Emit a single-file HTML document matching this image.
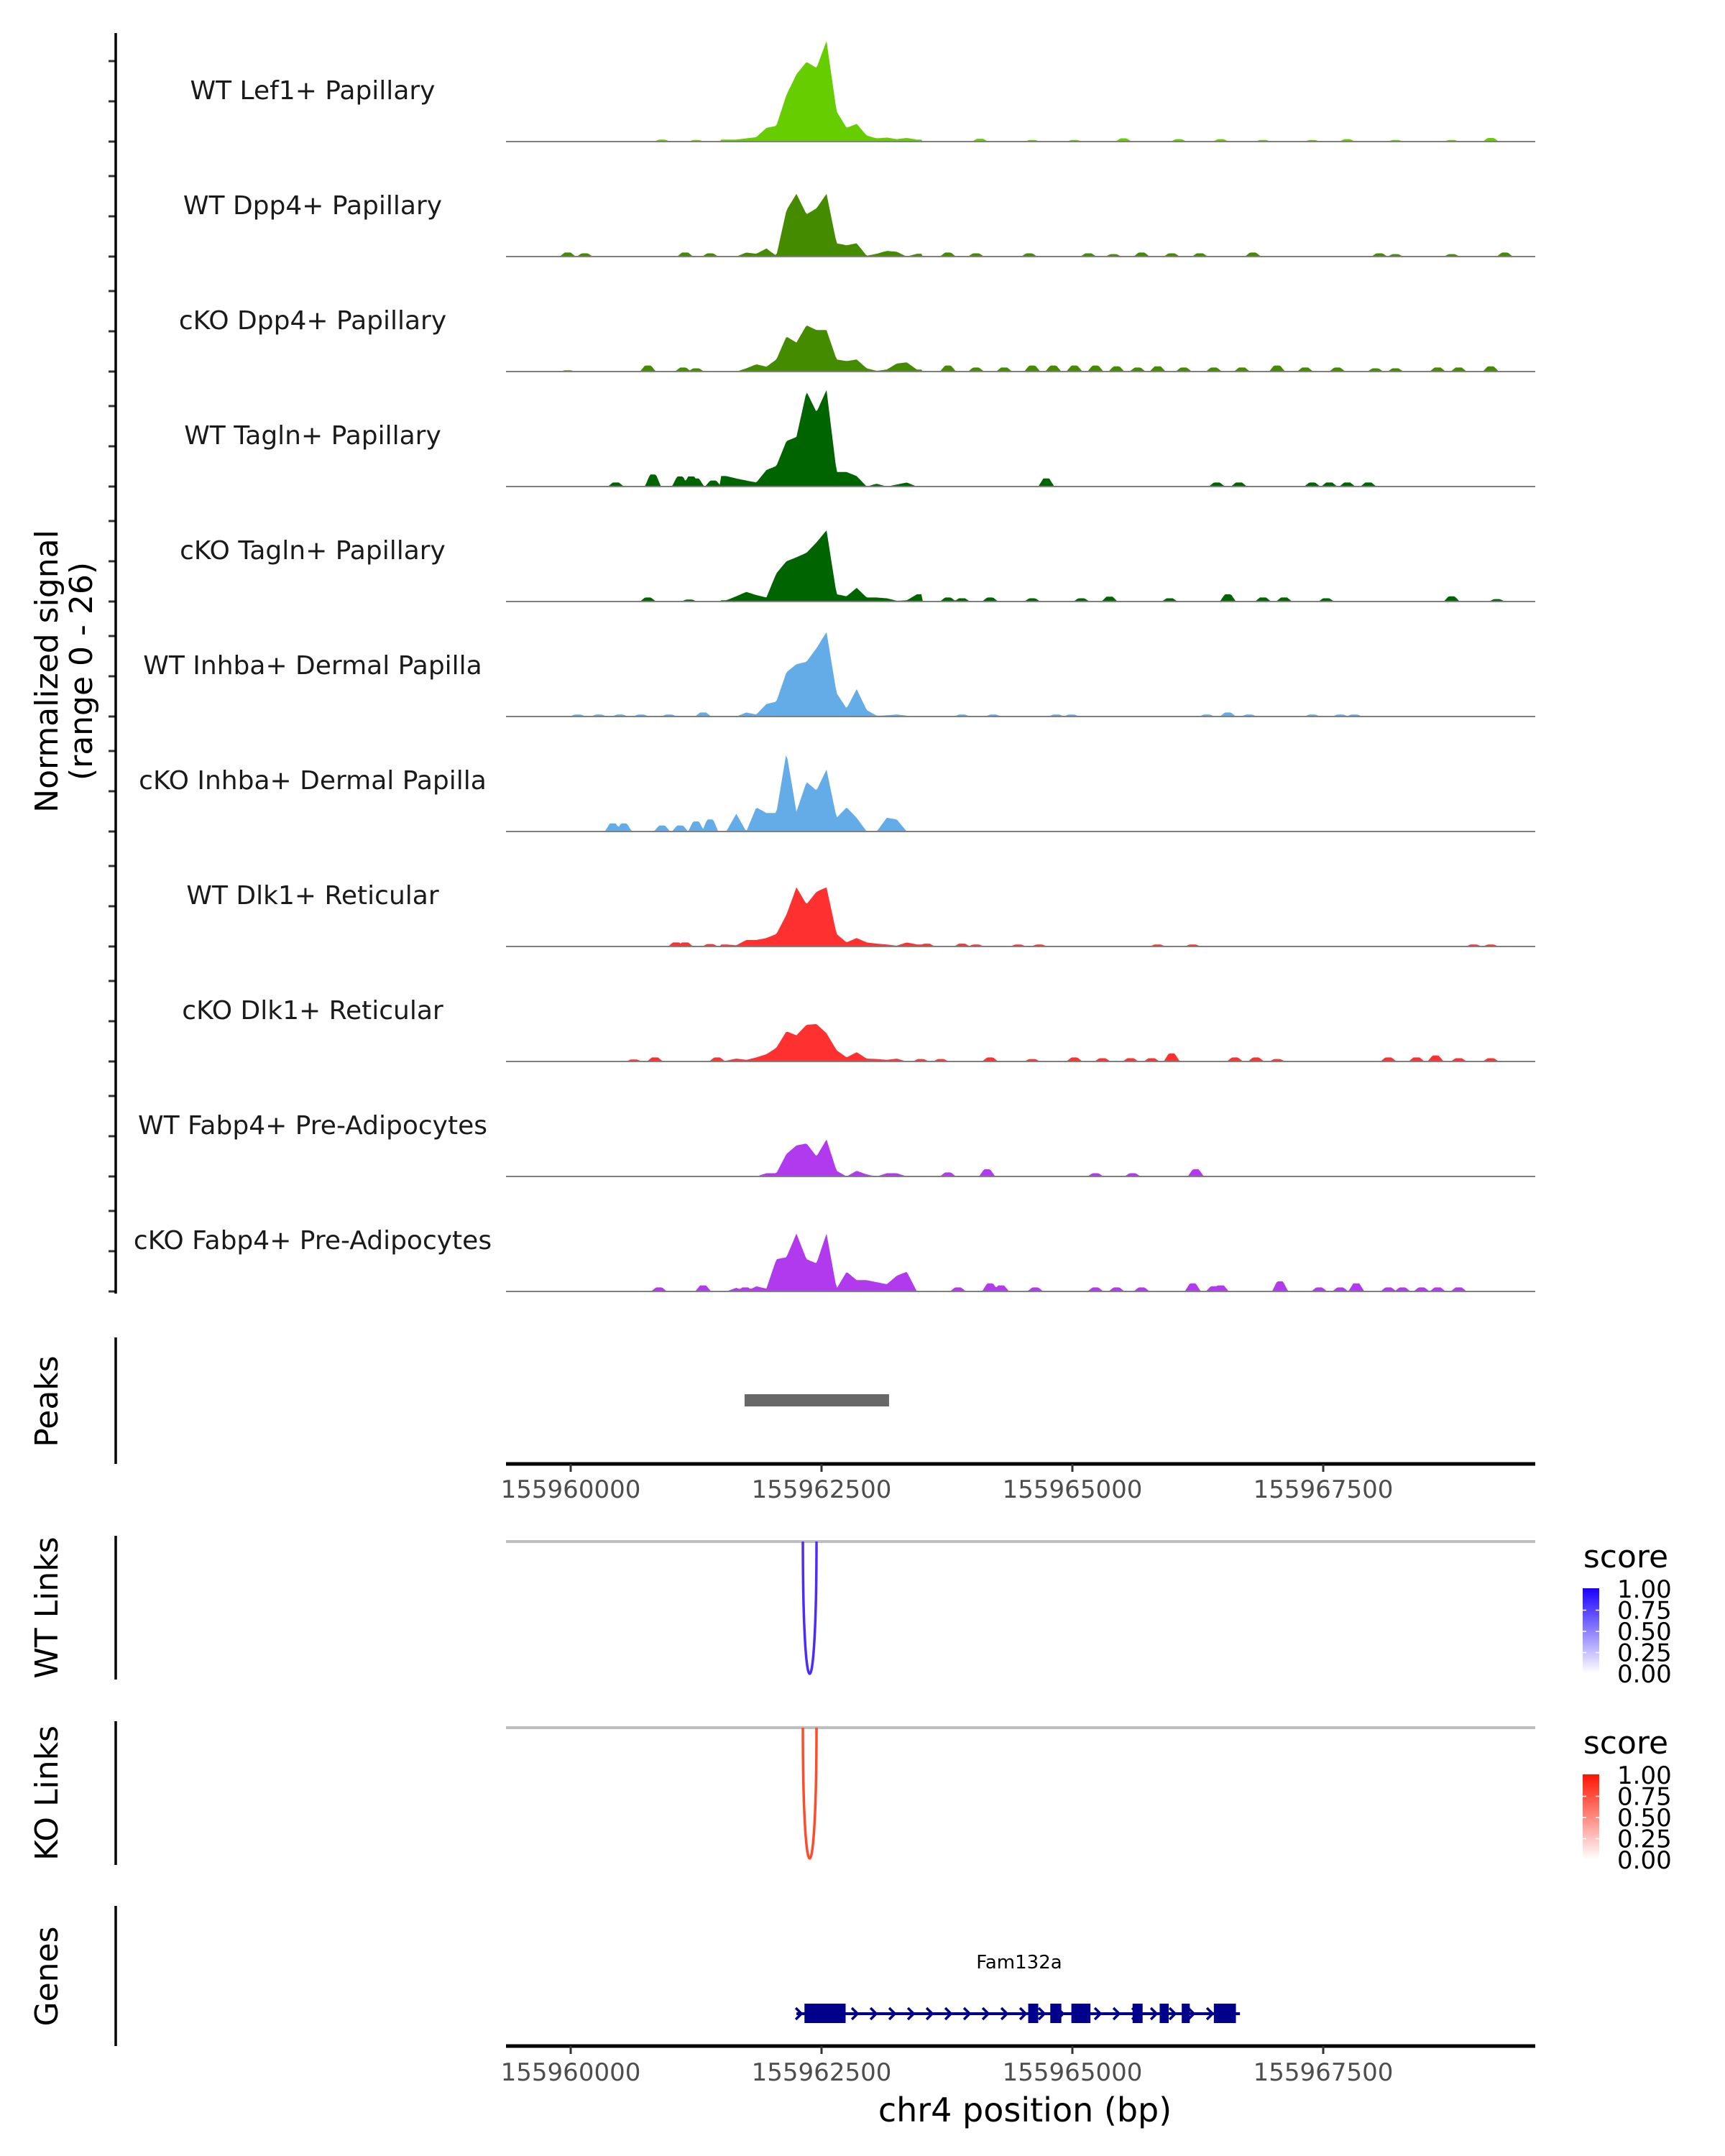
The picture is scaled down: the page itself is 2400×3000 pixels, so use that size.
<!DOCTYPE html>
<html><head><meta charset="utf-8">
<style>
body{margin:0;background:#fff;}
svg{display:block;font-family:"DejaVu Sans","Liberation Sans",sans-serif;}
</style></head>
<body>
<svg id="chart" width="2400" height="3000" viewBox="0 0 2400 3000" xmlns="http://www.w3.org/2000/svg">
<rect width="2400" height="3000" fill="#fff"/>
<g id="tracks"></g>
<g id="axes"></g>
<text transform="translate(80,934) rotate(-90)" text-anchor="middle" font-size="44" fill="#000">Normalized signal</text>
<text transform="translate(128,934) rotate(-90)" text-anchor="middle" font-size="44" fill="#000">(range 0 - 26)</text>
<text transform="translate(80,1950) rotate(-90)" text-anchor="middle" font-size="44">Peaks</text>
<text transform="translate(80,2237) rotate(-90)" text-anchor="middle" font-size="44">WT Links</text>
<text transform="translate(80,2495) rotate(-90)" text-anchor="middle" font-size="44">KO Links</text>
<text transform="translate(80,2750) rotate(-90)" text-anchor="middle" font-size="44">Genes</text>
<text x="1426" y="2952" text-anchor="middle" font-size="46">chr4 position (bp)</text>
<defs>
<linearGradient id="gBlue" x1="0" y1="1" x2="0" y2="0"><stop offset="0" stop-color="#fff"/><stop offset="1" stop-color="#1a00ff"/></linearGradient>
<linearGradient id="gRed" x1="0" y1="1" x2="0" y2="0"><stop offset="0" stop-color="#fff"/><stop offset="1" stop-color="#ff1400"/></linearGradient>
</defs>
</svg>
<script>
const labels=["WT Lef1+ Papillary","WT Dpp4+ Papillary","cKO Dpp4+ Papillary","WT Tagln+ Papillary","cKO Tagln+ Papillary","WT Inhba+ Dermal Papilla","cKO Inhba+ Dermal Papilla","WT Dlk1+ Reticular","cKO Dlk1+ Reticular","WT Fabp4+ Pre-Adipocytes","cKO Fabp4+ Pre-Adipocytes"];
const colors=["#66cd00","#458b00","#458b00","#006400","#006400","#63ace8","#63ace8","#ff3030","#ff3030","#b23aee","#b23aee"];
// main peak region 155961500-155963500, 100bp bins (signal values)
const main0=[0.5,0.5,0.8,1.1,3.4,3.9,11.6,16.7,19.8,18.3,25,7.5,3.4,4.4,1.5,0.8,1,0.6,0.9,0.5];
const main1=[0,0,1,0.7,2,0.2,11.5,15.6,10.5,12,15.6,3.3,2.8,3.3,0.2,0.7,1.4,1.2,0,0.7];
const main2=[0,0,0.8,1.8,1.2,3,8.7,7.2,11.5,10.3,10.3,3,2.6,3,0.8,0.2,0.5,2,2.3,0.5];
const main3=[2.6,2,1.5,1,4.1,5.1,11.3,12.3,23.6,18.5,24,3.6,3.6,2.6,0,0.7,0,0.5,1,0];
const main4=[0.3,1.3,2.4,1.6,1,7,10,11,12.1,14.7,17.7,1.8,1.3,3.4,1,1,0.8,0.2,0.3,1.8];
const main5=[0,0,1,0.5,3.1,3.7,11,13,13.6,17,21,5.8,2,6.8,1.6,0.2,0.3,0.5,0.2,0];
const main6=[0,4.4,0,6,4.6,4.6,19.6,4.9,12.3,10.2,15.4,3.4,6,3.4,0,0,3.4,3,0,0];
const main7=[0.5,0.3,1.6,1.6,2.1,3.1,7.9,14.7,10.5,13.6,14.7,3.1,1,2.1,1,0.7,0.5,0.2,1,0.5];
const main8=[0.2,0.7,0.4,1,1.8,3.4,7.5,6.5,9.1,9.3,7,2.8,1,2.3,0.7,0.6,0.4,0.7,0,0.2];
const main9=[0,0,0,0,0.8,0.8,5.6,7.7,8.2,5,9.2,1.4,0,1.4,0.5,0,0.8,0.8,0,0];
const main10=[0,0.9,0,1.3,0.7,8,8.5,14.4,8,7,14.4,0.7,4.9,2.8,2.8,2.3,1.8,3.9,4.9,0];
const mains=[main0,main1,main2,main3,main4,main5,main6,main7,main8,main9,main10];
// background bumps: positions in kb from 155960000, heights
const bumpPos0=[0.91,1.25,6.5,4.08,4.6,5.02,5.51,6.06,6.48,6.9,7.39,7.74,8.22,8.78,9.17];
const bumpH0=[0.5,0.4,0.3,0.7,0.4,0.4,0.8,0.6,0.6,0.4,0.4,0.6,0.4,0.4,0.9];
const bumpPos1=[-0.03,0.14,1.14,1.39,3.76,4.04,4.57,5.16,5.41,5.69,5.99,6.27,6.8,8.06,8.22,8.78,9.31];
const bumpH1=[1,0.8,1,0.8,1,0.8,0.8,0.8,0.6,1,0.8,0.8,1,0.8,0.6,0.6,1];
const bumpPos2=[-0.03,0.77,1.12,1.25,3.76,4.04,4.32,4.6,4.81,5.02,5.23,5.44,5.65,5.85,6.11,6.41,6.69,7.04,7.32,7.64,8.02,8.22,8.64,8.85,9.17];
const bumpH2=[0.3,1.5,1,0.8,1.5,1,1,1.5,1.5,1.5,1.5,1.3,1,1.3,1,1,1,1.5,1,1,0.8,0.8,1,1,1.3];
const bumpPos3=[0.45,0.82,1.09,1.2,1.25,1.42,4.74,6.44,6.66,7.39,7.56,7.74,7.95];
const bumpH3=[1,3,2.5,2.5,2,1.5,2,1,1,1,1,1,1];
const bumpPos4=[0.77,1.18,3.76,3.9,4.18,4.6,5.09,5.37,5.97,6.55,6.9,7.11,7.53,8.78,9.23];
const bumpH4=[1,0.5,1,0.8,1,0.8,0.8,1.2,0.8,1.8,1,1,0.8,1.3,0.6];
const bumpPos5=[0.07,0.28,0.49,0.7,0.98,1.32,3.9,4.21,4.84,4.99,6.34,6.55,6.76,7.39,7.67,7.81];
const bumpH5=[0.5,0.5,0.5,0.5,0.5,1,0.5,0.5,0.5,0.5,0.5,1,0.5,0.5,0.5,0.5];
const bumpPos6=[0.42,0.53,0.91,1.09,1.25,1.39];
const bumpH6=[2,2,1.5,1.5,2.5,3];
const bumpPos7=[1.05,1.14,1.39,3.55,3.9,4.04,4.46,4.67,5.85,6.2,9.0,9.17];
const bumpH7=[1,1,0.6,0.7,0.7,0.5,0.5,0.5,0.5,0.5,0.5,0.5];
const bumpPos8=[0.63,0.84,1.46,3.49,3.69,4.18,4.6,5.02,5.3,5.58,5.79,5.99,6.62,6.83,7.04,8.15,8.43,8.62,8.85,9.17];
const bumpH8=[0.5,1,1,0.6,0.6,1,0.6,1,0.8,0.8,0.8,2,1,1,0.6,1,1,1.5,0.8,0.8];
const bumpPos9=[3.76,4.15,5.23,5.6,6.23];
const bumpH9=[1,1.8,0.8,0.8,1.8];
const bumpPos10=[0.88,1.32,1.74,3.86,4.18,4.29,4.63,5.23,5.44,5.69,6.2,6.41,6.48,7.07,7.46,7.67,7.83,8.15,8.29,8.48,8.64,8.85];
const bumpH10=[1,1.5,1,1,2,1.5,1,1,1,1,2,1.3,1.5,2.5,1,1,2,1,1,1,1,1];
const bumpPos=[bumpPos0,bumpPos1,bumpPos2,bumpPos3,bumpPos4,bumpPos5,bumpPos6,bumpPos7,bumpPos8,bumpPos9,bumpPos10];
const bumpH=[bumpH0,bumpH1,bumpH2,bumpH3,bumpH4,bumpH5,bumpH6,bumpH7,bumpH8,bumpH9,bumpH10];
const xTicks=[155960000,155962500,155965000,155967500];
const peakStart=[155961733], peakEnd=[155963173];
const linkStart=[155962314], linkEnd=[155962450], linkScore=[1.0];
const geneStart=155962250, geneEnd=155966670;
const exonStart=[2.33,4.56,4.78,4.99,5.60,5.87,6.09,6.41];
const exonEnd=[2.74,4.66,4.89,5.18,5.70,5.96,6.17,6.63];
const legendTicks=["1.00","0.75","0.50","0.25","0.00"];

const NS="http://www.w3.org/2000/svg";
const svg=document.getElementById('chart');
const X0=704,X1=2136,BP0=155960000,PXBP=0.1396,YS=5.6;
const xs=bp=>794+(bp-BP0)*PXBP;
function el(tag,attrs,parent){const e=document.createElementNS(NS,tag);for(const k in attrs)e.setAttribute(k,attrs[k]);(parent||svg).appendChild(e);return e;}
const tracksG=document.getElementById('tracks');
const axesG=document.getElementById('axes');
const bpMin=BP0+(X0-794)/PXBP, bpMax=BP0+(X1-794)/PXBP;
for(let t=0;t<11;t++){
  const base=197+160*t;
  const m=mains[t];
  const val=bp=>{
    let v=0;const kb=(bp-BP0)/1000;
    if(kb>=1.5&&kb<=3.5){const f=(kb-1.55)*10;let i=Math.floor(f);if(i<0)v=m[0];else if(i>=m.length-1)v=m[m.length-1];else{const r=f-i;v=m[i]*(1-r)+m[i+1]*r;}}
    const P=bumpPos[t],H=bumpH[t];
    for(let j=0;j<P.length;j++){const d=Math.abs(kb-P[j]);if(d<0.08)v=Math.max(v,H[j]*(d<0.03?1:(0.08-d)/0.05));}
    return v;
  };
  let d=`M${X0},${base}`;
  for(let bp=bpMin;bp<=bpMax;bp+=15){d+=` L${xs(bp).toFixed(1)},${(base-val(bp)*YS).toFixed(1)}`;}
  d+=` L${X1},${base} Z`;
  const p=el('path',{d:d,fill:colors[t]},tracksG);
  
  
  const bl=el('line',{x1:X0,x2:X1,y1:base,y2:base,stroke:'#7f7f7f','stroke-width':2},tracksG);
  
  
  const lb=el('text',{x:435,y:base-59,'text-anchor':'middle','font-size':36,fill:'#1a1a1a'},tracksG);
  lb.textContent=labels[t];
  
  
  for(const v of [0,10,20]){const tk=el('line',{x1:151,x2:160,y1:base-v*YS,y2:base-v*YS,stroke:'#333','stroke-width':3},axesG);
  
  }
}
// left axis lines
[[46,1800],[1861,2037],[2137,2337],[2395,2595],[2652,2847]].forEach(s=>{
  const l=el('line',{x1:161,x2:161,y1:s[0],y2:s[1],stroke:'#000','stroke-width':3.5},axesG);
  
  
});
// peaks
for(let i=0;i<peakStart.length;i++){
  const r=el('rect',{x:xs(peakStart[i]),y:1940,width:xs(peakEnd[i])-xs(peakStart[i]),height:17,fill:'#686868'});
  
  
}
// x axes
function xAxis(y,ly){
  const l=el('line',{x1:X0,x2:X1,y1:y,y2:y,stroke:'#000','stroke-width':5});
  
  
  xTicks.forEach(v=>{
    const t=el('line',{x1:xs(v),x2:xs(v),y1:y,y2:y+11,stroke:'#333','stroke-width':3});
    
    
    const tx=el('text',{x:xs(v),y:ly,'text-anchor':'middle','font-size':34,fill:'#4d4d4d'});
    tx.textContent=v;
    
    
  });
}
xAxis(2037,2084);xAxis(2847,2895);
// links
function links(top,bottom,color,grad,name){
  const g=el('line',{x1:X0,x2:X1,y1:top,y2:top,stroke:'#bebebe','stroke-width':4});
  
  
  for(let i=0;i<linkStart.length;i++){
    const a=xs(linkStart[i]),b=xs(linkEnd[i]);const c=top+(bottom-top)*linkScore[i]/0.75;
    const p=el('path',{d:`M${a},${top} C${a},${c} ${b},${c} ${b},${top}`,fill:'none',stroke:color,'stroke-width':3.5});
    
    
  }
  const st=el('text',{x:2262,y:top+36,'text-anchor':'middle','font-size':44});
  st.textContent='score';
  
  
  const bar=el('rect',{x:2202,y:top+65,width:23,height:118,fill:grad});
  
  
  legendTicks.forEach((s,i)=>{
    const yy=top+66+i*29.5;
    if(i>0&&i<4){const tl=el('line',{x1:2202,x2:2207,y1:yy,y2:yy,stroke:'#fff','stroke-width':1.5});
    const tr=el('line',{x1:2220,x2:2225,y1:yy,y2:yy,stroke:'#fff','stroke-width':1.5});}
    const t=el('text',{x:2250,y:yy+12,'font-size':34});
    t.textContent=s;
    
    
  });
}
links(2145,2329,'#4b2bff','url(#gBlue)','wt-links');
links(2404,2586,'#ff4b2b','url(#gRed)','ko-links');
// gene
const gl=el('line',{x1:xs(geneStart),x2:xs(geneEnd),y1:2802,y2:2802,stroke:'#00008b','stroke-width':4});


for(let x=xs(geneStart)+4;x<xs(geneEnd);x+=26){
  const c=el('path',{d:`M${x-5},${2794} L${x+3},${2802} L${x-5},${2810}`,fill:'none',stroke:'#00008b','stroke-width':3.5});
  
  
}
for(let i=0;i<exonStart.length;i++){
  const a=xs(BP0+exonStart[i]*1000),b=xs(BP0+exonEnd[i]*1000);
  const r=el('rect',{x:a,y:2788,width:b-a,height:27,fill:'#00008b'});
  
  
}
const gt=el('text',{x:1418,y:2739,'text-anchor':'middle','font-size':26});
gt.textContent='Fam132a';


</script>
</body></html>
